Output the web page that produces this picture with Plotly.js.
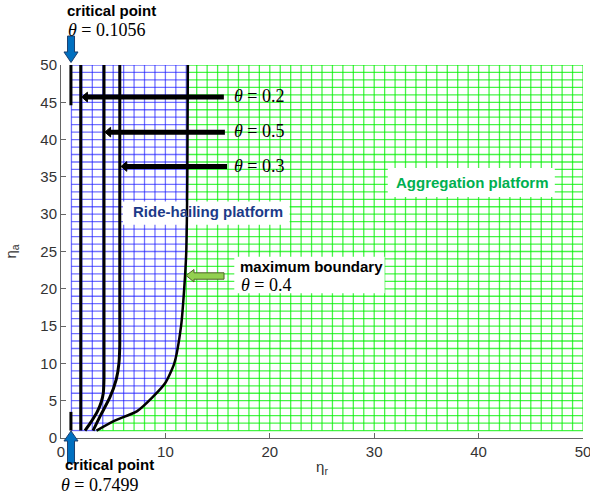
<!DOCTYPE html>
<html>
<head>
<meta charset="utf-8">
<script src="https://cdn.plot.ly/plotly-3.0.1.min.js"></script>
<style>html,body{margin:0;padding:0;background:#fff;}#chart{width:590px;height:495px;}</style>
</head>
<body>
<div id="chart"></div>
<script>
// ---- data ----
const boundaryX = [3.4, 5.1, 7.3, 8.8, 10.0, 10.85, 11.5, 11.8, 12.0, 12.1, 12.15];
const boundaryY = [1.0, 2.3, 3.6, 5.5, 7.4, 10.0, 15.0, 20.0, 25.0, 35.0, 50.0];
const theta02X = [1.89, 1.89];
const theta02Y = [1.0, 50.0];
const theta05X = [2.3, 2.9, 3.5, 3.85, 4.05, 4.12, 4.12];
const theta05Y = [1.0, 2.2, 3.6, 4.8, 6.0, 8.0, 50.0];
const theta03X = [3.07, 3.85, 4.67, 5.3, 5.55, 5.63, 5.63];
const theta03Y = [1.0, 3.2, 5.4, 7.9, 10.0, 12.5, 50.0];
const critTopX = [0.95, 0.95];
const critTopY = [44.6, 50.0];
const critBotX = [0.95, 0.95];
const critBotY = [1.0, 3.5];
const xTicks = [0, 10, 20, 30, 40, 50];
const yTicks = [0, 5, 10, 15, 20, 25, 30, 35, 40, 45, 50];
const meshMin = 1, meshMax = 50;

// ---- helpers ----
function interp(xs, ys, v) {
  if (v <= xs[0]) return ys[0];
  for (let i = 1; i < xs.length; i++) {
    if (v <= xs[i]) {
      const t = (v - xs[i-1]) / (xs[i] - xs[i-1]);
      return ys[i-1] + t * (ys[i] - ys[i-1]);
    }
  }
  return ys[ys.length-1];
}
const gX = [], gY = [], bX = [], bY = [];
for (let k = meshMin; k <= meshMax; k++) {
  const xb = interp(boundaryY, boundaryX, k);
  bX.push(meshMin, xb, null); bY.push(k, k, null);
  gX.push(xb, meshMax, null); gY.push(k, k, null);
  if (k <= boundaryX[0]) {
    bX.push(k, k, null); bY.push(meshMin, meshMax, null);
  } else if (k < boundaryX[boundaryX.length-1]) {
    const yb = interp(boundaryX, boundaryY, k);
    gX.push(k, k, null); gY.push(meshMin, yb, null);
    bX.push(k, k, null); bY.push(yb, meshMax, null);
  } else {
    gX.push(k, k, null); gY.push(meshMin, meshMax, null);
  }
}
const L = 61, T = 65, W = 522, H = 373;
function P(px, py) { return [((px - L) / W).toFixed(4), ((T + H - py) / H).toFixed(4)]; }
function pathFrom(pts) { return 'M' + pts.map(p => P(p[0], p[1]).join(',')).join('L') + 'Z'; }
function box(x0, x1, y0, y1) {
  return {x: [x0, x1, x1, x0, x0], y: [y0, y0, y1, y1, y0], mode: 'lines', fill: 'toself',
          fillcolor: '#ffffff', line: {width: 0, color: 'rgba(0,0,0,0)'}, hoverinfo: 'skip', showlegend: false};
}
const blk = {color: '#000', width: 3};
const traces = [
  {x: gX, y: gY, mode: 'lines', line: {color: 'rgba(0,240,0,0.72)', width: 1.3}, hoverinfo: 'skip', showlegend: false},
  {x: bX, y: bY, mode: 'lines', line: {color: 'rgba(20,20,255,0.6)', width: 1.3}, hoverinfo: 'skip', showlegend: false},
  box(5.93, 21.9, 28.6, 31.7),
  box(31.3, 47.3, 32.3, 36.2),
  box(16.6, 31.0, 19.4, 24.3),
  {x: boundaryX, y: boundaryY, mode: 'lines', line: {color: '#000', width: 2.5, shape: 'spline', smoothing: 0.6}, showlegend: false},
  {x: theta02X, y: theta02Y, mode: 'lines', line: blk, showlegend: false},
  {x: theta05X, y: theta05Y, mode: 'lines', line: {color: '#000', width: 3, shape: 'spline', smoothing: 0.6}, showlegend: false},
  {x: theta03X, y: theta03Y, mode: 'lines', line: {color: '#000', width: 3, shape: 'spline', smoothing: 0.6}, showlegend: false},
  {x: critTopX, y: critTopY, mode: 'lines', line: blk, showlegend: false},
  {x: critBotX, y: critBotY, mode: 'lines', line: blk, showlegend: false}
];

const serif = {family: 'Liberation Serif, Times New Roman, serif', size: 18, color: '#000'};
const bold = {family: 'Liberation Sans, Arial, sans-serif', size: 15, color: '#000'};
function txt(px, py, text, font, xanchor, yanchor) {
  const p = P(px, py);
  return {xref: 'paper', yref: 'paper', x: +p[0], y: +p[1], text: text, font: font,
          showarrow: false, xanchor: xanchor || 'center', yanchor: yanchor || 'middle', borderpad: 0};
}
const annotations = [
  txt(111.5, 20, '<b>critical point</b>', bold, 'center', 'bottom'),
  txt(106.5, 19, '<i>θ</i> = 0.1056', serif, 'center', 'top'),
  txt(109, 474, '<b>critical point</b>', bold, 'center', 'bottom'),
  txt(100, 474, '<i>θ</i> = 0.7499', serif, 'center', 'top'),
  txt(233, 96, '<i>θ</i> = 0.2', serif, 'left'),
  txt(233, 131, '<i>θ</i> = 0.5', serif, 'left'),
  txt(233, 166, '<i>θ</i> = 0.3', serif, 'left'),
  txt(207.5, 212, '<b>Ride-hailing platform</b>', Object.assign({}, bold, {color: '#1c3a88'})),
  txt(472, 182, '<b>Aggregation platform</b>', Object.assign({}, bold, {color: '#00b050'})),
  txt(239, 266, '<b>maximum boundary</b>', bold, 'left'),
  txt(240, 285, '<i>θ</i> = 0.4', serif, 'left')
];
// black pointer arrows (tip x, tail x, y) in data units
function arrowShapes(xTip, xTail, yv) {
  const headLen = 0.55, headHalf = 0.65;
  return [
    {type: 'line', xref: 'x', yref: 'y', x0: xTail, x1: xTip + headLen * 0.8, y0: yv, y1: yv,
     line: {color: '#000', width: 5}},
    {type: 'path', xref: 'x', yref: 'y', fillcolor: '#000', line: {color: '#000', width: 1},
     path: 'M' + xTip + ',' + yv + 'L' + (xTip + headLen) + ',' + (yv + headHalf) + 'L' + (xTip + headLen) + ',' + (yv - headHalf) + 'Z'}
  ];
}
const blueFill = 'rgb(0,112,192)';
const shapes = [
  {type: 'path', xref: 'paper', yref: 'paper', fillcolor: blueFill, line: {color: '#1d3f6e', width: 1},
   path: pathFrom([[67.5, 36], [74.5, 36], [74.5, 52], [78, 52], [71, 62.5], [64, 52], [67.5, 52]])},
  {type: 'path', xref: 'paper', yref: 'paper', fillcolor: blueFill, line: {color: '#1d3f6e', width: 1},
   path: pathFrom([[67.5, 463], [74.5, 463], [74.5, 441], [78, 441], [71, 431], [64, 441], [67.5, 441]])},
  {type: 'path', xref: 'paper', yref: 'paper', fillcolor: 'rgb(146,208,80)', line: {color: '#4f6228', width: 1},
   path: pathFrom([[186, 275.5], [194, 269.5], [194, 272.8], [224, 272.8], [224, 279.2], [194, 279.2], [194, 282]])}
].concat(arrowShapes(1.98, 15.6, 45.7), arrowShapes(4.2, 15.7, 41.0), arrowShapes(5.75, 15.9, 36.4));

const tickFont = {family: 'Liberation Sans, Arial, sans-serif', size: 15, color: '#333'};
const titleFont = {family: 'Liberation Sans, Arial, sans-serif', size: 15, color: '#333'};
const layout = {
  width: 590, height: 495,
  margin: {l: L, r: 590 - L - W, t: T, b: 495 - T - H},
  paper_bgcolor: '#fff', plot_bgcolor: '#fff',
  showlegend: false,
  xaxis: {range: [0, 50], tickvals: xTicks, ticktext: xTicks.map(String), showgrid: false, zeroline: false,
          showline: true, linecolor: '#666', linewidth: 1, ticks: 'inside', ticklen: 5, tickcolor: '#666',
          tickfont: tickFont, ticklabeloverflow: 'allow',
          title: {text: 'η<sub>r</sub>', font: titleFont, standoff: 2}, automargin: false},
  yaxis: {range: [0, 50], tickvals: yTicks, ticktext: yTicks.map(String), showgrid: false, zeroline: false,
          showline: true, linecolor: '#666', linewidth: 1, ticks: 'inside', ticklen: 5, tickcolor: '#666',
          tickfont: tickFont, ticklabeloverflow: 'allow',
          title: {text: 'η<sub>a</sub>', font: titleFont, standoff: 20}, automargin: false},
  annotations: annotations,
  shapes: shapes
};
Plotly.newPlot('chart', traces, layout, {displayModeBar: false, staticPlot: true});
</script>
</body>
</html>
